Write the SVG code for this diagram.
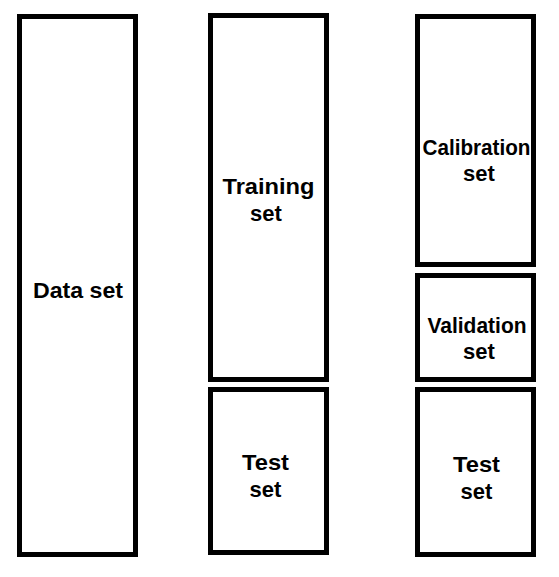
<svg xmlns="http://www.w3.org/2000/svg" width="559" height="577" viewBox="0 0 559 577">
<style>
.box{fill:#fff;stroke:#000;stroke-width:5}
.lbl{font-family:"Liberation Sans",Arial,sans-serif;font-weight:bold;font-size:22px;fill:#000;text-anchor:middle}
</style>
<rect width="559" height="577" fill="#fff"/>
<g id="data-set">
<rect class="box" x="19.5" y="16.5" width="116" height="538"/>
<text class="lbl" x="78" y="297.5" textLength="90" lengthAdjust="spacingAndGlyphs">Data set</text>
</g>
<g id="training-set">
<rect class="box" x="210.5" y="15.5" width="116" height="364"/>
<text class="lbl" x="268.5" y="193.5" textLength="92" lengthAdjust="spacingAndGlyphs">Training</text>
<text class="lbl" x="266" y="220.5">set</text>
</g>
<g id="test-set-1">
<rect class="box" x="210.5" y="389.5" width="116" height="163"/>
<text class="lbl" x="265.5" y="470" textLength="47" lengthAdjust="spacingAndGlyphs">Test</text>
<text class="lbl" x="265.5" y="497">set</text>
</g>
<g id="calibration-set">
<rect class="box" x="417.5" y="16.5" width="116" height="248"/>
<text class="lbl" x="476.5" y="155" textLength="108" lengthAdjust="spacingAndGlyphs">Calibration</text>
<text class="lbl" x="479" y="181">set</text>
</g>
<g id="validation-set">
<rect class="box" x="417.5" y="275.5" width="116" height="104"/>
<text class="lbl" x="477" y="333" textLength="99" lengthAdjust="spacingAndGlyphs">Validation</text>
<text class="lbl" x="479" y="359">set</text>
</g>
<g id="test-set-2">
<rect class="box" x="417.5" y="389.5" width="116" height="165"/>
<text class="lbl" x="476.5" y="472" textLength="47" lengthAdjust="spacingAndGlyphs">Test</text>
<text class="lbl" x="476.5" y="499">set</text>
</g>
<g id="connectors"></g>
</svg>
